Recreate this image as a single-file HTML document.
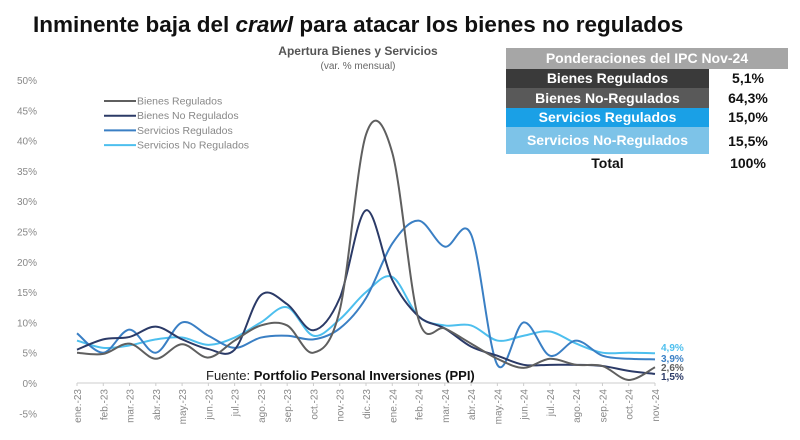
<!DOCTYPE html>
<html><head><meta charset="utf-8"><style>
body{margin:0;background:#fff;width:800px;height:440px;overflow:hidden;font-family:"Liberation Sans",sans-serif;position:relative}
.t{position:absolute;white-space:nowrap}
.cell{position:absolute;color:#fff;font-weight:bold;text-align:center;font-size:14px}
.val{position:absolute;left:712px;width:72px;text-align:center;font-weight:bold;font-size:14px;color:#111}
</style></head><body>
<div class="t" style="left:33px;top:12px;font-size:22.5px;font-weight:bold;color:#111">Inminente baja del <i>crawl</i> para atacar los bienes no regulados</div>
<div class="t" style="left:258px;top:44px;width:200px;text-align:center;font-size:12px;font-weight:bold;color:#555">Apertura Bienes y Servicios</div>
<div class="t" style="left:258px;top:61px;width:200px;text-align:center;font-size:10px;color:#666">(var. % mensual)</div>

<div>
<div class="cell" style="left:506px;top:48px;width:282px;height:21px;line-height:21px;background:#a6a6a6">Ponderaciones del IPC Nov-24</div>
<div class="cell" style="left:506px;top:69px;width:203px;height:19px;line-height:19px;background:#3a3a3a">Bienes Regulados</div>
<div class="val" style="top:70px">5,1%</div>
<div class="cell" style="left:506px;top:88px;width:203px;height:20px;line-height:20px;background:#595959">Bienes No-Regulados</div>
<div class="val" style="top:90px">64,3%</div>
<div class="cell" style="left:506px;top:108px;width:203px;height:19px;line-height:19px;background:#1aa0e6">Servicios Regulados</div>
<div class="val" style="top:109px">15,0%</div>
<div class="cell" style="left:506px;top:127px;width:203px;height:27px;line-height:27px;background:#7dc3e8">Servicios No-Regulados</div>
<div class="val" style="top:133px">15,5%</div>
<div class="cell" style="left:506px;top:155px;width:203px;color:#111">Total</div>
<div class="val" style="top:155px">100%</div>
</div>

<svg id="chart" width="800" height="440" style="position:absolute;left:0;top:0;font-family:'Liberation Sans',sans-serif"></svg>
<script>
const months=["ene.-23","feb.-23","mar.-23","abr.-23","may.-23","jun.-23","jul.-23","ago.-23","sep.-23","oct.-23","nov.-23","dic.-23","ene.-24","feb.-24","mar.-24","abr.-24","may.-24","jun.-24","jul.-24","ago.-24","sep.-24","oct.-24","nov.-24"];
const bienesReg=[5,4.8,6.5,4,6.4,4.2,7,9.5,9.5,5,12,41,38,10.5,9,6.5,4,2.5,4,3,2.8,0.5,2.6];
const bienesNoReg=[5.5,7.2,7.6,9.3,7.2,5.6,5.5,14.5,13,8.7,14,28.5,17,11,9,6,4.5,3,3,3,2.8,2,1.5];
const servReg=[8.2,5,8.8,5,10,7.8,5.8,7.5,7.8,7.2,9,14,23,26.8,22.5,24.5,3,10,4.5,7,4.5,4,3.9];
const servNoReg=[7,5.8,6.2,7.2,7.5,6.3,7.5,10,12.5,7.8,10.5,15,17.5,11,9.5,9.5,7,7.8,8.5,6.5,5,5,4.9];
const yTicks=[-5,0,5,10,15,20,25,30,35,40,45,50];
const endLabels=["4,9%","3,9%","2,6%","1,5%"];
const NS="http://www.w3.org/2000/svg";
const svg=document.getElementById('chart');
const x0=77,x1=655,yZero=383,pxPer=6.06;
const X=i=>x0+i*(x1-x0)/(months.length-1);
const Y=v=>yZero-v*pxPer;
function mk(t,a){const e=document.createElementNS(NS,t);for(const k in a)e.setAttribute(k,a[k]);svg.appendChild(e);return e;}
yTicks.forEach(v=>{const t=mk('text',{x:37,y:Y(v)+4,'font-size':10,fill:'#888','text-anchor':'end'});t.textContent=v+'%';

});
const ax=mk('line',{x1:x0,x2:x1,y1:yZero,y2:yZero,stroke:'#ccc','stroke-width':1});


months.forEach((m,i)=>{const t=mk('text',{transform:`translate(${X(i)+4},${yZero+6}) rotate(-90)`,'font-size':10,fill:'#888','text-anchor':'end'});t.textContent=m;


const tk=mk('line',{x1:X(i),x2:X(i),y1:yZero,y2:yZero+3,stroke:'#ccc'});

});
function path(vals){const p=vals.map((v,i)=>[X(i),Y(v)]);let d=`M${p[0][0]},${p[0][1]}`;
for(let i=0;i<p.length-1;i++){const a=p[i-1]||p[i],b=p[i],c=p[i+1],e=p[i+2]||c;
d+=` C${b[0]+(c[0]-a[0])/6},${b[1]+(c[1]-a[1])/6} ${c[0]-(e[0]-b[0])/6},${c[1]-(e[1]-b[1])/6} ${c[0]},${c[1]}`;}return d;}
const series=[[servNoReg,'#4dbfee','series-servicios-no-regulados'],[servReg,'#3a7fc4','series-servicios-regulados'],[bienesNoReg,'#2b3a67','series-bienes-no-regulados'],[bienesReg,'#5f5f5f','series-bienes-regulados']];
series.forEach(s=>{const e=mk('path',{d:path(s[0]),fill:'none',stroke:s[1],'stroke-width':2});

});
const lg=[['Bienes Regulados','#5f5f5f'],['Bienes No Regulados','#2b3a67'],['Servicios Regulados','#3a7fc4'],['Servicios No Regulados','#4dbfee']];
lg.forEach((l,i)=>{const y=101+i*14.7;const ln=mk('line',{x1:104,x2:136,y1:y,y2:y,stroke:l[1],'stroke-width':2});


const t=mk('text',{x:137,y:y+3.5,'font-size':10.5,fill:'#888'});t.textContent=l[0];

});
const lc=['#4dbfee','#3a7fc4','#5f5f5f','#2b3a67'],ly=[351,362,371,380];
endLabels.forEach((s,i)=>{const t=mk('text',{x:661,y:ly[i],'font-size':10,'font-weight':'bold',fill:lc[i]});t.textContent=s;

});
const src=mk('text',{x:206,y:380,'font-size':13,fill:'#222'});


src.innerHTML='Fuente: <tspan font-weight="bold" fill="#111">Portfolio Personal Inversiones (PPI)</tspan>';
</script>
</body></html>
